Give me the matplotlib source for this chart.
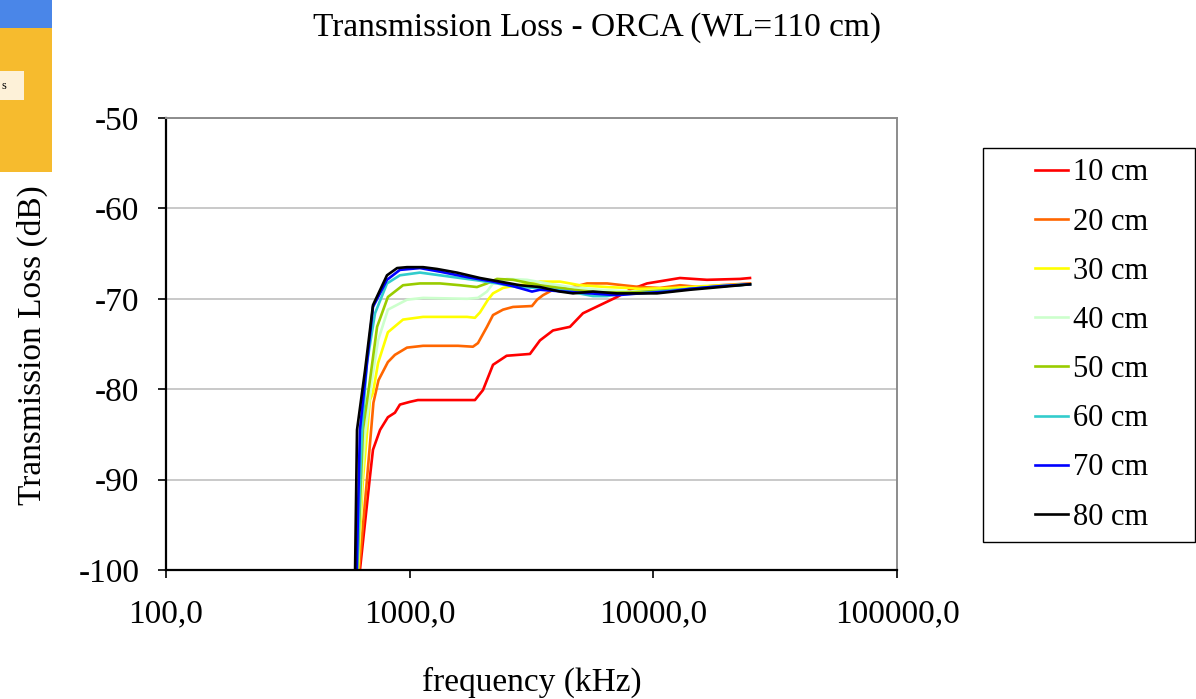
import numpy as np
import matplotlib
matplotlib.use("Agg")
from matplotlib import pyplot as plt
from matplotlib.patches import Rectangle

# frequency (kHz) / transmission loss (dB)
f_10 = [625, 687, 707, 756, 814, 870, 912, 1002, 1081, 1853, 1999, 2198, 2500, 3117, 3426,
        3875, 4549, 5143, 6040, 7096, 8018, 9420, 12860, 16600, 22680, 24930]
tl_10 = [-100, -89.7, -86.7, -84.5, -83.1, -82.6, -81.7, -81.4, -81.2, -81.2, -80.1, -77.3, -76.3,
         -76.1, -74.6, -73.5, -73.1, -71.6, -70.7, -69.8, -69.0, -68.3, -67.7, -67.9, -67.8, -67.7]

f_20 = [620, 668, 710, 745, 814, 870, 975, 1135, 1579, 1818, 1907, 2076, 2198, 2416, 2655, 3177,
        3334, 3526, 3875, 4681, 5344, 6458, 7510, 8820, 10640, 12860, 15550, 18790, 24930]
tl_20 = [-100, -90, -81.5, -79.0, -77.0, -76.2, -75.4, -75.2, -75.2, -75.3, -74.9, -73.1, -71.8,
         -71.2, -70.9, -70.8, -70.1, -69.6, -69.0, -68.7, -68.3, -68.3, -68.5, -68.7, -68.8, -68.5,
         -68.7, -68.5, -68.3]

f_30 = [614, 643, 687, 707, 742, 814, 939, 1135, 1720, 1853, 1944, 2096, 2198, 2416, 2757, 3208,
        3426, 4141, 5000, 6458, 7800, 8820, 12000, 16000, 24930]
tl_30 = [-100, -90, -81.2, -80.4, -77.1, -73.7, -72.3, -72.0, -72.0, -72.1, -71.5, -70.1, -69.4,
         -68.8, -68.5, -68.3, -68.1, -68.1, -68.5, -68.7, -68.8, -68.9, -68.8, -68.6, -68.4]

f_40 = [611, 637, 656, 700, 742, 814, 975, 1135, 1720, 1907, 2076, 2198, 2508, 3032, 3664, 4549,
        6040, 8018, 10640, 14130, 19000, 24930]
tl_40 = [-100, -90, -85, -79.0, -74.6, -71.2, -70.1, -69.9, -70.0, -69.9, -69.2, -68.3, -67.8,
         -67.9, -68.3, -68.7, -69.0, -69.2, -69.1, -68.9, -68.6, -68.4]

f_50 = [610, 643, 687, 735, 814, 939, 1102, 1332, 1610, 1888, 2076, 2282, 2655, 3426, 4681, 6040,
        8018, 10640, 14130, 19000, 24930]
tl_50 = [-100, -84.5, -79.0, -73.1, -69.8, -68.5, -68.3, -68.3, -68.5, -68.7, -68.3, -67.8, -67.9,
         -68.5, -69.0, -69.3, -69.3, -69.1, -68.9, -68.6, -68.4]

f_60 = [608, 637, 668, 721, 807, 912, 1102, 1332, 1610, 1944, 2282, 2757, 3426, 4549, 5652, 6458,
        7096, 8820, 10640, 14130, 19000, 24930]
tl_60 = [-100, -84.5, -77.1, -71.6, -68.3, -67.4, -67.1, -67.4, -67.7, -68.0, -68.3, -68.7, -68.8,
         -69.2, -69.7, -69.7, -69.5, -69.4, -69.2, -68.9, -68.6, -68.4]

f_70 = [606, 625, 668, 707, 807, 912, 1102, 1332, 1720, 2198, 2655, 3177, 3426, 4300, 5500, 7096,
        8820, 11500, 14130, 19000, 24930]
tl_70 = [-100, -84.5, -77.1, -70.9, -67.9, -66.8, -66.6, -67.0, -67.6, -68.1, -68.6, -69.2, -69.0,
         -69.2, -69.4, -69.6, -69.4, -69.2, -68.9, -68.6, -68.4]

f_80 = [597, 608, 656, 707, 807, 888, 975, 1135, 1295, 1563, 1944, 2349, 2836, 3426, 4141, 4681,
        5652, 7096, 8820, 10350, 14130, 18790, 24930]
tl_80 = [-100, -84.5, -77.9, -70.7, -67.4, -66.6, -66.5, -66.5, -66.7, -67.1, -67.7, -68.1, -68.5,
         -68.7, -69.2, -69.4, -69.2, -69.4, -69.4, -69.4, -69.0, -68.7, -68.4]

labels = ["10 cm", "20 cm", "30 cm", "40 cm", "50 cm", "60 cm", "70 cm", "80 cm"]
colors = ["#ff0000", "#ff6600", "#ffff00", "#ccffcc", "#99cc00", "#33cccc", "#0000ff", "#000000"]
freqs = [f_10, f_20, f_30, f_40, f_50, f_60, f_70, f_80]
losses = [tl_10, tl_20, tl_30, tl_40, tl_50, tl_60, tl_70, tl_80]

xticks = [100, 1000, 10000, 100000]
xticklabels = ["100,0", "1000,0", "10000,0", "100000,0"]
yticks = [-100, -90, -80, -70, -60, -50]

plt.rcParams['font.family'] = ['Liberation Serif', 'DejaVu Serif']
plt.rcParams['axes.unicode_minus'] = False
fs = 24      # title, axis labels, ticks
fs_leg = 22

W, H = 1196, 699
fig = plt.figure(figsize=(W / 100, H / 100), dpi=100)
ax = fig.add_axes([166 / W, 1 - 570 / H, (897 - 166) / W, (570 - 118) / H])

for f, tl, c, lab in zip(freqs, losses, colors, labels):
    ax.plot(f, tl, color=c, lw=1.9, label=lab, solid_joinstyle='round')

ax.set_xscale('log')
ax.set_xlim(100, 100000)
ax.set_ylim(-100, -50)
ax.set_xticks(xticks)
ax.set_xticklabels(xticklabels)
ax.xaxis.set_minor_locator(matplotlib.ticker.NullLocator())
ax.set_yticks(yticks)
ax.tick_params(axis='both', labelsize=fs, length=6, width=1.2, direction='out')
ax.tick_params(axis='x', pad=15)
ax.tick_params(axis='y', pad=13)
ax.grid(axis='y', color='#c0c0c0', lw=1.2)
ax.set_axisbelow(True)
for s in ['left', 'bottom']:
    ax.spines[s].set_color('black')
    ax.spines[s].set_linewidth(1.6)
for s in ['top', 'right']:
    ax.spines[s].set_color('#8c8c8c')
    ax.spines[s].set_linewidth(1.4)

fig.text(597 / W, 1 - 28 / H, "Transmission Loss - ORCA (WL=110 cm)", ha='center', va='center', fontsize=fs)
fig.text(532 / W, 1 - 682 / H, "frequency (kHz)", ha='center', va='center', fontsize=fs)
fig.text(32 / W, 1 - 345 / H, "Transmission Loss (dB)", ha='center', va='center', rotation=90, fontsize=fs)

# legend box
fig.patches.append(Rectangle((983 / W, 1 - 542 / H), 212 / W, 394 / H, transform=fig.transFigure,
                             fill=False, edgecolor='black', lw=1.0))
fig.legend(loc='center left', bbox_to_anchor=(1035 / W, 1 - 345 / H), frameon=False, fontsize=fs_leg,
           borderpad=0, borderaxespad=0, handlelength=1.08, handletextpad=0.16, labelspacing=0.66)

# bits of the slide behind the chart
fig.patches.append(Rectangle((0, 1 - 28 / H), 52 / W, 28 / H, transform=fig.transFigure,
                             color='#4a86e8', lw=0))
fig.patches.append(Rectangle((0, 1 - 172 / H), 52 / W, 144 / H, transform=fig.transFigure,
                             color='#f6bb2e', lw=0))
fig.patches.append(Rectangle((0, 1 - 100 / H), 24 / W, 29 / H, transform=fig.transFigure,
                             color='#fdf1d8', lw=0))
fig.text(2 / W, 1 - 86 / H, "s", ha='left', va='center', fontsize=9)

fig.savefig("out.png", dpi=100)
